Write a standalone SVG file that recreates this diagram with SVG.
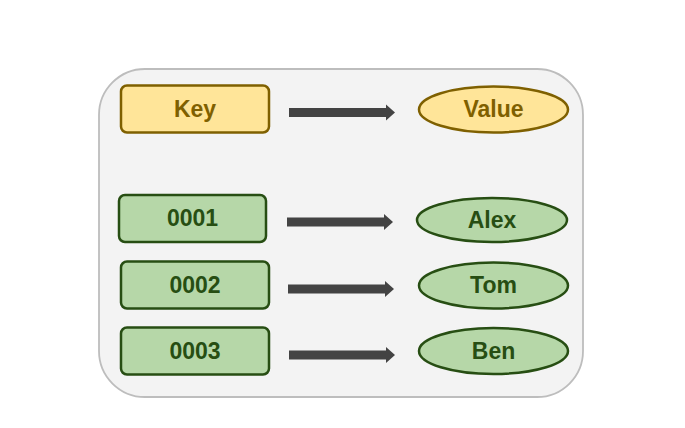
<svg xmlns="http://www.w3.org/2000/svg" width="685" height="428" viewBox="0 0 685 428">
<style>
.key{fill:#ffe599;stroke:#7f6000;stroke-width:2.5}
.green{fill:#b6d7a8;stroke:#274e13;stroke-width:2.5}
.t{font-family:"Liberation Sans",Arial,sans-serif;font-weight:bold;font-size:23px;text-anchor:middle;dominant-baseline:central}
.ty{fill:#7f6000}
.tg{fill:#274e13}
.arr{fill:#434343}
</style>
<rect width="685" height="428" fill="#ffffff"/>
<g id="container">
<rect x="99" y="69" width="484" height="328" rx="46" ry="46" fill="#f3f3f3" stroke="#bdbdbd" stroke-width="1.8"/>
</g>
<g id="key">
<rect class="key" x="121" y="85.5" width="148" height="47" rx="6"/>
<text class="t ty" x="195" y="109">Key</text>
</g>
<g id="value">
<ellipse class="key" cx="493.5" cy="109.5" rx="74.5" ry="23"/>
<text class="t ty" x="493.5" y="109">Value</text>
</g>
<g id="k0001">
<rect class="green" x="119" y="195" width="147" height="47" rx="6"/>
<text class="t tg" x="192.5" y="218">0001</text>
</g>
<g id="alex">
<ellipse class="green" cx="492" cy="220" rx="75" ry="22"/>
<text class="t tg" x="492" y="219.5">Alex</text>
</g>
<g id="k0002">
<rect class="green" x="121" y="261.5" width="148" height="47" rx="6"/>
<text class="t tg" x="195" y="284.5">0002</text>
</g>
<g id="tom">
<ellipse class="green" cx="493.5" cy="285.5" rx="74.5" ry="23"/>
<text class="t tg" x="493.5" y="285">Tom</text>
</g>
<g id="k0003">
<rect class="green" x="121" y="327.5" width="148" height="47" rx="6"/>
<text class="t tg" x="195" y="350.5">0003</text>
</g>
<g id="ben">
<ellipse class="green" cx="493.5" cy="351" rx="74.5" ry="23"/>
<text class="t tg" x="493.5" y="350.5">Ben</text>
</g>
<g id="connectors">
<path class="arr" d="M289,108 H386 V104.5 L395,112.5 L386,120.5 V117 H289 Z"/>
<path class="arr" d="M287,217.5 H384 V214 L393,222 L384,230 V226.5 H287 Z"/>
<path class="arr" d="M288,284.5 H385 V281 L394,289 L385,297 V293.5 H288 Z"/>
<path class="arr" d="M289,350.5 H386 V347 L395,355 L386,363 V359.5 H289 Z"/>
</g>
</svg>
